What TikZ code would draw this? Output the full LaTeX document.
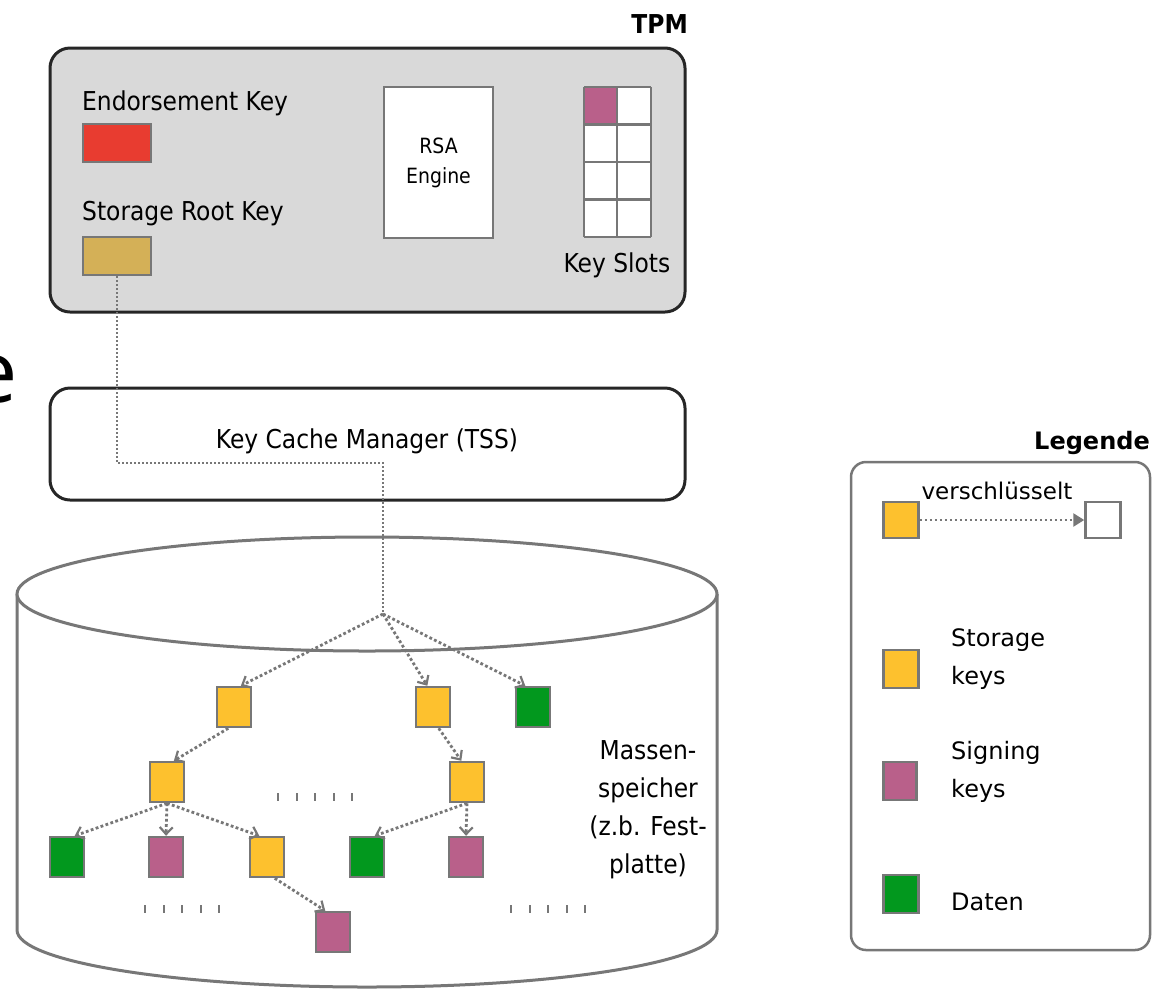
\documentclass[tikz,border=0pt]{standalone}
\usepackage{fontspec}
\setmainfont{DejaVu Sans Condensed}
\newfontfamily\legfont{DejaVu Sans}
\newfontfamily\bigfont{Open Sans}
\usetikzlibrary{arrows.meta}
\definecolor{kgray}{HTML}{777777}
\definecolor{tpmgray}{HTML}{D9D9D9}
\definecolor{kyellow}{HTML}{FDC12E}
\definecolor{kgreen}{HTML}{02981E}
\definecolor{kpink}{HTML}{B9608A}
\definecolor{kred}{HTML}{E83C30}
\definecolor{ktan}{HTML}{D4B057}
\newcommand\fsMain{\fontsize{26}{31}\selectfont}
\newcommand\fsSmall{\fontsize{21}{30}\selectfont}
\newcommand\fsLeg{\legfont\fontsize{24}{38}\selectfont}
\begin{document}
\begin{tikzpicture}[x=1pt,y=-1pt,
  key/.style={draw=kgray,line width=2.5pt,minimum width=34pt,minimum height=40pt,inner sep=0pt},
  conn/.style={draw=kgray,line width=2.8pt,dash pattern=on 2.8pt off 2.4pt,
    -{Straight Barb[length=7pt,width=13pt,line width=2.2pt]}},
  bigbox/.style={draw=black!85,line width=3pt,rounded corners=20pt,inner sep=0pt},
  lbl/.style={inner sep=0pt,font=\fsMain}]
\useasboundingbox (0,0) rectangle (1155,989);

% stray large letter at the left edge
\node[anchor=base west,inner sep=0pt,font=\bigfont\fontsize{86}{100}\selectfont] (bige) at (-31,402) {e};

% TPM
\node[anchor=base east,inner sep=0pt,font=\bfseries\fsMain] (tpmlbl) at (688,33) {TPM};
\node[bigbox,fill=tpmgray,minimum width=635pt,minimum height=264pt] (tpm) at (367.5,180) {};
\node[lbl,anchor=base west] (eklbl) at (82,110) {Endorsement Key};
\node[draw=kgray,line width=2.5pt,fill=kred,minimum width=68pt,minimum height=38pt,inner sep=0pt] (ek) at (117,143) {};
\node[lbl,anchor=base west] (srklbl) at (82,220) {Storage Root Key};
\node[draw=kgray,line width=2.5pt,fill=ktan,minimum width=68pt,minimum height=38pt,inner sep=0pt] (srk) at (117,256) {};
\node[draw=kgray,line width=2.5pt,fill=white,minimum width=109pt,minimum height=151pt,align=center,font=\fsSmall] (rsa) at (438.5,162.5) {RSA\\Engine};

% key slots grid
\fill[white] (584,87) rectangle (651,237);
\fill[kpink] (584,87) rectangle (617,124.5);
\foreach \yy in {87,124.5,162,199.5,237} \draw[kgray,line width=2.5pt] (584,\yy) -- (651,\yy);
\foreach \xx in {584,617,651} \draw[kgray,line width=2.5pt] (\xx,87) -- (\xx,237);
\node[lbl] (slotlbl) at (617,265) {Key Slots};

% Key cache manager
\node[bigbox,fill=white,minimum width=635pt,minimum height=112pt] (kcm) at (367.5,444) {};
\node[lbl] (kcmlbl) at (367,441) {Key Cache Manager (TSS)};

% cylinder
\fill[white] (17,594) -- (17,930) arc[start angle=180,end angle=360,x radius=350pt,y radius=57pt] -- (717,594) -- cycle;
\draw[kgray,line width=3pt] (17,594) -- (17,930) arc[start angle=180,end angle=360,x radius=350pt,y radius=57pt] -- (717,594);
\draw[kgray,line width=3pt,fill=white] (367,594) ellipse[x radius=350pt,y radius=57pt];

% SRK chain
\coordinate (c) at (383,614);
\coordinate (kb) at (383,463);
\draw[kgray,line width=1.8pt,dash pattern=on 2pt off 2pt] (srk.south) |- (kb) -- (c);

% keys in storage
\node[key,fill=kyellow] (y1) at (234,707) {};
\node[key,fill=kyellow] (y2) at (433,707) {};
\node[key,fill=kgreen]  (g1) at (533,707) {};
\node[key,fill=kyellow] (y3) at (167,782) {};
\node[key,fill=kyellow] (y4) at (467,782) {};
\node[key,fill=kgreen]  (g2) at (67,857) {};
\node[key,fill=kpink]   (p1) at (166,857) {};
\node[key,fill=kyellow] (y5) at (267,857) {};
\node[key,fill=kgreen]  (g3) at (367,857) {};
\node[key,fill=kpink]   (p2) at (466,857) {};
\node[key,fill=kpink]   (p3) at (333,932) {};

\draw[conn] (c) -- (y1.72);
\draw[conn] (c) -- (y2.105);
\draw[conn] (c) -- (g1.110);
\draw[conn] (y1.255) -- (y3.72);
\draw[conn] (y2.285) -- (y4.105);
\draw[conn] (y3.south) -- (g2.70);
\draw[conn] (y3.south) -- (p1.north);
\draw[conn] (y3.south) -- (y5.110);
\draw[conn] (y4.south) -- (g3.70);
\draw[conn] (y4.south) -- (p2.north);
\draw[conn] (y5.290) -- (p3.110);

% ellipsis marks
\foreach \sx/\sy in {278/797,145/909,511/909}
  \foreach \k in {0,...,4}
    \draw[kgray,line width=2pt] (\sx+\k*18.5,\sy-4) -- (\sx+\k*18.5,\sy+4);

\node[inner sep=0pt,align=center,font=\fontsize{26}{38}\selectfont] (massen) at (648,810) {Massen-\\speicher\\(z.b. Fest-\\platte)};

% legend
\node[anchor=base east,inner sep=0pt,font=\legfont\bfseries\fontsize{24}{29}\selectfont] (leglbl) at (1150,449) {Legende};
\draw[kgray,line width=2.5pt,fill=white,rounded corners=15pt] (851,462) rectangle (1150,950);
\node[key,fill=kyellow,minimum width=35pt,minimum height=36pt] (ly) at (901,520) {};
\node[key,fill=white,minimum width=35pt,minimum height=36pt] (le) at (1103,520) {};
\draw[kgray,line width=2.5pt,dash pattern=on 2.5pt off 2.5pt,-{Triangle[length=11pt,width=13pt]}] (ly.east) -- (le.west);
\node[inner sep=0pt,font=\legfont\fontsize{23}{28}\selectfont] (enclbl) at (997,491) {verschlüsselt};

\node[key,fill=kyellow,minimum width=35pt,minimum height=38pt] (ls) at (901,669) {};
\node[anchor=west,inner sep=0pt,align=left,font=\fsLeg] (lst) at (951,659) {Storage\\keys};
\node[key,fill=kpink,minimum width=33pt,minimum height=38pt] (lp) at (900,781) {};
\node[anchor=west,inner sep=0pt,align=left,font=\fsLeg] (lpt) at (951,772) {Signing\\keys};
\node[key,fill=kgreen,minimum width=35pt,minimum height=38pt] (lg) at (901,894) {};
\node[anchor=west,inner sep=0pt,font=\fsLeg] (lgt) at (951,902) {Daten};
\end{tikzpicture}
\end{document}
